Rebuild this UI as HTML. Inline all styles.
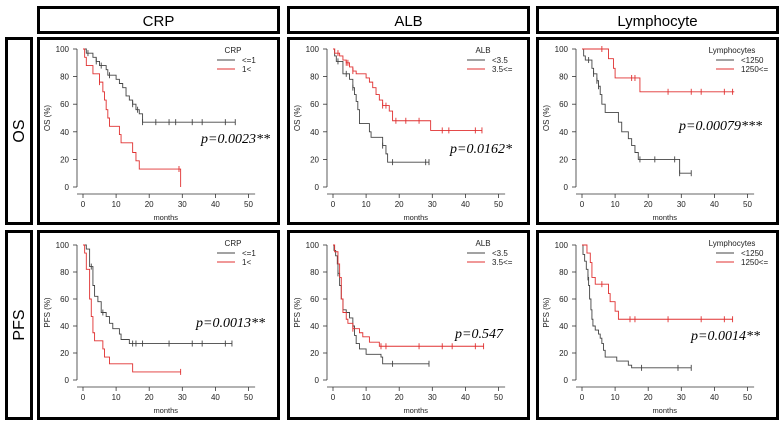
<!DOCTYPE html>
<html><head><meta charset="utf-8"><style>
body{margin:0;background:#fff;width:784px;height:426px;overflow:hidden;font-family:"Liberation Sans",sans-serif}
svg{display:block}
</style></head><body>
<svg id="fig" width="784" height="426" xmlns="http://www.w3.org/2000/svg"></svg>
<script>
// ---- data ----
const colHeaders = ["CRP","ALB","Lymphocyte"];
const rowHeaders = ["OS","PFS"];
const xTicks = [0,10,20,30,40,50];
const yTicks = [0,20,40,60,80,100];
const legendTitles = ["CRP","ALB","Lymphocytes"];
const legendLabels = [["<=1","1<"],["<3.5","3.5<="],["<1250","1250<="]];
const pValues = [["p=0.0023**","p=0.0162*","p=0.00079***"],["p=0.0013**","p=0.547","p=0.0014**"]];

const crpOsGreyT=[0,1,3,4,5,7,7.5,10,11,12,13,14,15,16,17,18];
const crpOsGreyS=[100,97,94,91,88,85,81,78,75,72,66,63,60,56,53,47];
const crpOsGreyEnd=46; const crpOsGreyC=[1.5,4,5.5,8,15,16.5,18,22,26,28,33,36,43,46];
const crpOsRedT=[0,0.5,1,3,5,6,6.5,7,7.5,8,11,11.5,15,16,17,29.5];
const crpOsRedS=[100,94,88,82,76,69,63,56,50,44,38,32,25,19,13,0];
const crpOsRedEnd=29.5; const crpOsRedC=[5,29];

const albOsGreyT=[0,0.5,1,3,5,6,6.5,7,7.5,8,11,11.5,15,16,16.5];
const albOsGreyS=[100,95,91,82,78,72,67,62,56,46,40,36,30,24,18];
const albOsGreyEnd=29; const albOsGreyC=[1.5,4,6,15,18,28,29];
const albOsRedT=[0,0.5,2,3,4,5,6,7,10,11,12,13,14,15,17,18,29.5];
const albOsRedS=[100,97,95,92,90,87,84,82,79,76,72,67,63,59,55,48,41];
const albOsRedEnd=45; const albOsRedC=[1.5,4,4.5,6,15,16,19,22,26,33,35,43,45];

const lyOsGreyT=[0,0.5,1,3,3.5,4.5,5,5.5,6,7,11,12,14,15,16,17,29.5];
const lyOsGreyS=[100,95,92,86,82,77,73,67,60,54,47,40,35,30,25,20,10];
const lyOsGreyEnd=33; const lyOsGreyC=[2,3.5,4.5,5,17.5,22,28,29.5,33];
const lyOsRedT=[0,8,9.5,10,17.5];
const lyOsRedS=[100,93,86,79,69];
const lyOsRedEnd=46; const lyOsRedC=[6,15,16,26,33,36,43,45.5];

const crpPfsGreyT=[0,1,2,3,3.5,4.5,5.5,7,8,9,11,11.5,14];
const crpPfsGreyS=[100,97,84,70,62,58,50,47,42,38,34,30,27];
const crpPfsGreyEnd=45; const crpPfsGreyC=[2.5,6,15,16,18,26,33,36,43,45];
const crpPfsRedT=[0,0.5,1,2,2.5,3,3.5,6,6.5,8,15];
const crpPfsRedS=[100,94,82,60,47,35,29,23,17,12,6];
const crpPfsRedEnd=29.5; const crpPfsRedC=[29.5];

const albPfsGreyT=[0,0.3,0.8,1.3,1.5,2,2.5,3,4,5,6,6.5,7,8,10,14.5,15];
const albPfsGreyS=[100,96,92,86,79,70,60,52,50,46,40,33,27,23,19,17,12];
const albPfsGreyEnd=29; const albPfsGreyC=[1.5,18,29];
const albPfsRedT=[0,0.5,1.5,2,2.5,3,4,4.5,6,8,9,11,14];
const albPfsRedS=[100,95,86,76,60,50,45,42,38,35,32,28,25];
const albPfsRedEnd=45.5; const albPfsRedC=[6,14.5,16,26,33,36,43,45.5];

const lyPfsGreyT=[0,0.3,0.8,1.3,1.8,2,2.3,2.7,3,3.3,4,5,5.5,6,6.5,7,10.5,14,15];
const lyPfsGreyS=[100,93,88,82,76,70,60,52,45,40,37,34,31,27,22,17,14,11,9];
const lyPfsGreyEnd=33; const lyPfsGreyC=[1.8,18,29,33];
const lyPfsRedT=[0,1.5,2.5,3,4,8,8.5,10,11];
const lyPfsRedS=[100,94,87,76,71,64,58,51,45];
const lyPfsRedEnd=45.5; const lyPfsRedC=[6,14.5,16,26,36,43,45.5];

const panels=[
 [[crpOsGreyT,crpOsGreyS,crpOsGreyEnd,crpOsGreyC,crpOsRedT,crpOsRedS,crpOsRedEnd,crpOsRedC],
  [albOsGreyT,albOsGreyS,albOsGreyEnd,albOsGreyC,albOsRedT,albOsRedS,albOsRedEnd,albOsRedC],
  [lyOsGreyT,lyOsGreyS,lyOsGreyEnd,lyOsGreyC,lyOsRedT,lyOsRedS,lyOsRedEnd,lyOsRedC]],
 [[crpPfsGreyT,crpPfsGreyS,crpPfsGreyEnd,crpPfsGreyC,crpPfsRedT,crpPfsRedS,crpPfsRedEnd,crpPfsRedC],
  [albPfsGreyT,albPfsGreyS,albPfsGreyEnd,albPfsGreyC,albPfsRedT,albPfsRedS,albPfsRedEnd,albPfsRedC],
  [lyPfsGreyT,lyPfsGreyS,lyPfsGreyEnd,lyPfsGreyC,lyPfsRedT,lyPfsRedS,lyPfsRedEnd,lyPfsRedC]]
];

// ---- layout ----
const NS="http://www.w3.org/2000/svg";
const svg=document.getElementById('fig');
function mk(tag,attrs,parent){const e=document.createElementNS(NS,tag);for(const k in attrs)e.setAttribute(k,attrs[k]);(parent||svg).appendChild(e);return e;}
const colL=[37,287,536], colW=243;
const rowTop=[37,230], rowBot=[225,420];
const y100=[49,245], y0=[187,380];
const pPos=[[[L=>L+233,143],[L=>L+225,153],[L=>L+226,130]],[[L=>L+228,327],[L=>L+216,338],[L=>L+224,340]]];

for(let c=0;c<3;c++){
  const h=mk('rect',{x:colL[c]+1.5,y:7.5,width:colW-3,height:25,fill:'none',stroke:'#000','stroke-width':3});
  
  
  const t=mk('text',{x:colL[c]+colW/2,y:26,'text-anchor':'middle','font-size':15});
  t.textContent=colHeaders[c];
  
  
}
for(let r=0;r<2;r++){
  const b=mk('rect',{x:6.5,y:rowTop[r]+1.5,width:25,height:rowBot[r]-rowTop[r]-3,fill:'none',stroke:'#000','stroke-width':3});
  
  
  const cy=(rowTop[r]+rowBot[r])/2;
  const t=mk('text',{x:24,y:cy,'text-anchor':'middle','font-size':16,transform:`rotate(-90 24 ${cy})`});
  t.textContent=rowHeaders[r];
  
  
}

for(let r=0;r<2;r++)for(let c=0;c<3;c++){
  const L=colL[c];
  const g=mk('g',{});
  
  
  const box=mk('rect',{x:L+1.5,y:rowTop[r]+1.5,width:colW-3,height:rowBot[r]-rowTop[r]-3,fill:'none',stroke:'#000','stroke-width':3},g);
  
  
  const X=m=>L+46+m*3.31;
  const Y=v=>y0[r]-(v/100)*(y0[r]-y100[r]);
  const ax=L+40, axY=y0[r]+7;
  const ya=mk('line',{x1:ax,y1:Y(100),x2:ax,y2:Y(0),stroke:'#333','stroke-width':0.8},g);
  
  
  yTicks.forEach(v=>{
    mk('line',{x1:ax-4,y1:Y(v),x2:ax,y2:Y(v),stroke:'#333','stroke-width':0.8},g);
    const t=mk('text',{x:ax-8,y:Y(v)+3,'text-anchor':'end','font-size':8,fill:'#222'},g);
    t.textContent=v;
    
    
  });
  const tx0=L+13, ty0=(Y(0)+Y(100))/2;
  const yt=mk('text',{x:tx0,y:ty0,'text-anchor':'middle','font-size':8,fill:'#222',transform:`rotate(-90 ${tx0} ${ty0})`},g);
  yt.textContent=rowHeaders[r]+' (%)';
  
  
  const xa=mk('line',{x1:ax,y1:axY,x2:X(52),y2:axY,stroke:'#333','stroke-width':0.8},g);
  
  
  xTicks.forEach(v=>{
    mk('line',{x1:X(v),y1:axY,x2:X(v),y2:axY+4,stroke:'#333','stroke-width':0.8},g);
    const t=mk('text',{x:X(v),y:axY+13,'text-anchor':'middle','font-size':8,fill:'#222'},g);
    t.textContent=v;
    
    
  });
  const xt=mk('text',{x:X(25),y:axY+26,'text-anchor':'middle','font-size':7.5,fill:'#222'},g);
  xt.textContent='months';
  
  
  const d=panels[r][c];
  [[0,'#444'],[4,'#e03030']].forEach(([o,col],si)=>{
    const T=d[o],S=d[o+1],end=d[o+2],C=d[o+3];
    let p=`M${X(T[0])},${Y(S[0])}`;
    for(let i=1;i<T.length;i++){p+=` H${X(T[i])} V${Y(S[i])}`;}
    p+=` H${X(end)}`;
    const path=mk('path',{d:p,fill:'none',stroke:col,'stroke-width':0.9},g);
    
    
    C.forEach(ct=>{
      let s=S[0];for(let i=0;i<T.length;i++)if(T[i]<=ct)s=S[i];
      const m=mk('line',{x1:X(ct),y1:Y(s)-3,x2:X(ct),y2:Y(s)+3,stroke:col,'stroke-width':0.9},g);
      
      
    });
  });
  const ly=rowTop[r]+16;
  const lt=mk('text',{x:L+196,y:ly,'text-anchor':'middle','font-size':8,fill:'#222'},g);
  lt.textContent=legendTitles[c];
  
  
  ['#444','#e03030'].forEach((col,i)=>{
    const yy=ly+10+i*9;
    const ln=mk('line',{x1:L+180,y1:yy-3,x2:L+198,y2:yy-3,stroke:col,'stroke-width':0.9},g);
    
    
    const tx=mk('text',{x:L+205,y:yy,'font-size':8,fill:'#222'},g);
    tx.textContent=legendLabels[c][i];
    
    
  });
  const pp=pPos[r][c];
  const pv=mk('text',{x:pp[0](L),y:pp[1],'text-anchor':'end','font-size':14,'font-style':'italic','font-family':'Liberation Serif, serif'},g);
  pv.textContent=pValues[r][c];
  
  
}
</script>
</body></html>
